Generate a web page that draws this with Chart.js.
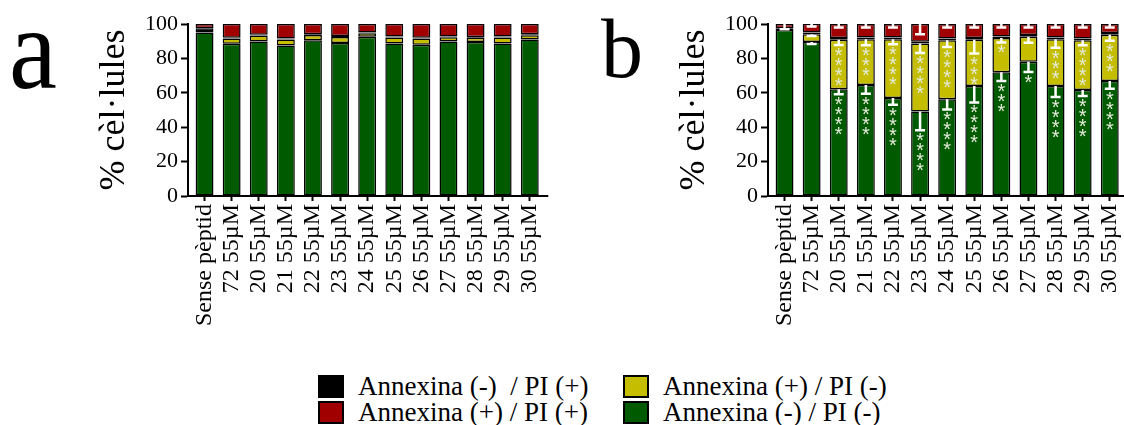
<!DOCTYPE html>
<html>
<head>
<meta charset="utf-8">
<title>Annexina / PI</title>
<script src="https://cdn.jsdelivr.net/npm/chart.js"></script>
<style>
  body { margin: 0; width: 1124px; height: 425px; overflow: hidden; background: #fff; position: relative; font-family: "Liberation Serif", serif; }
  .panel { position: absolute; top: 0; width: 562px; height: 345px; }
  .letter { position: absolute; line-height: 1; color: #000; }
  #legend { position: absolute; left: 318px; top: 374px; }
  .item { position: absolute; display: flex; align-items: center; white-space: pre; font-size: 27px; line-height: 24px; color: #000; }
  .box { width: 26px; height: 23px; border: 2px solid #000; box-sizing: border-box; margin-right: 14px; }
</style>
</head>
<body>
<div class="letter" style="left:9px;top:-2px;font-size:108px;transform:scaleY(1.08);transform-origin:0 90px">a</div>
<div class="letter" style="left:601px;top:7px;font-size:84px">b</div>
<div class="panel" style="left:0"><canvas id="chartA" width="562" height="345"></canvas></div>
<div class="panel" style="left:580px"><canvas id="chartB" width="562" height="345"></canvas></div>
<div id="legend"></div>
<script>
var labels = ['Sense pèptid', '72 55µM', '20 55µM', '21 55µM', '22 55µM', '23 55µM', '24 55µM',
              '25 55µM', '26 55µM', '27 55µM', '28 55µM', '29 55µM', '30 55µM'];
var yTitle = '% cèl·lules';

// legend order: black, red, yellow, green
var seriesNames = ['Annexina (-)  / PI (+)', 'Annexina (+) / PI (+)', 'Annexina (+) / PI (-)', 'Annexina (-) / PI (-)'];
var seriesColors = ['#000000', '#a00000', '#c4bd00', '#005a00'];

// panel a
var greenA  = [95, 88.5, 89.8, 87.5, 90.6, 89, 92.6, 88.7, 88, 89.8, 89.5, 88.7, 91];
var yellowA = [0, 3, 3.5, 3.5, 3, 3.5, 2, 3.5, 3.5, 2.5, 2.5, 3.5, 2.5];
var blackA  = [2.5, 0.5, 0.5, 0.5, 0.5, 0.5, 0.5, 0.5, 0.5, 0.5, 0.5, 0.5, 0.5];
var redA    = [2.5, 8, 6.2, 8.5, 5.9, 7, 4.9, 7.3, 8, 7.2, 7.5, 7.3, 6];

// panel b
var greenB  = [96.5, 89.5, 62.1, 64.5, 57, 49.2, 56.3, 63.9, 71.9, 78.1, 64, 61.7, 66.8];
var yellowB = [0, 4.5, 28.7, 26.7, 34.2, 39.5, 34.3, 26.9, 19.9, 14.5, 27.2, 28.9, 27];
var blackB  = [1, 1, 1, 1, 1, 1, 1, 1, 1, 1, 1, 1, 1];
var redB    = [2.5, 5, 8.2, 7.8, 7.8, 10.3, 8.4, 8.2, 7.2, 6.4, 7.8, 8.4, 5.2];

// error bars (drawn downwards) and asterisk counts for panel b
var greenErrB  = [0, 1.2, 3, 5, 4, 11, 6, 9.5, 5, 6, 6.5, 3.5, 4.5];
var yellowErrB = [0, 1, 3, 3.5, 3, 5.5, 4, 8, 2.5, 3.5, 5, 3, 3.5];
var redErrB    = [3, 1.5, 2, 2, 2, 6, 2, 2, 2, 2, 2, 2, 2];
var greenStars  = [0, 0, 4, 4, 4, 4, 4, 4, 3, 1, 4, 4, 4];
var yellowStars = [0, 0, 4, 3, 4, 4, 4, 3, 1, 0, 3, 4, 3];

var serif = 'Liberation Serif';

function bar(label, data, color) {
    return {
        label: label, data: data, backgroundColor: color,
        borderColor: '#000', borderWidth: 1.5, borderSkipped: false,
        categoryPercentage: 1, barPercentage: 0.66
    };
}

// stacking bottom -> top: green, yellow, black, red
function makeData(g, y, k, r) {
    return {
        labels: labels,
        datasets: [
            bar(seriesNames[3], g, seriesColors[3]),
            bar(seriesNames[2], y, seriesColors[2]),
            bar(seriesNames[0], k, seriesColors[0]),
            bar(seriesNames[1], r, seriesColors[1])
        ]
    };
}

// categories start a little right of the y axis, x axis runs past the last bar
var axisGap = {
    id: 'axisGap',
    afterLayout: function (chart) {
        var x = chart.scales.x;
        x.left += 3;
        x.width = x.right - x.left;
        x.configure();
    },
    afterDraw: function (chart) {
        var a = chart.chartArea, ctx = chart.ctx;
        ctx.save();
        ctx.strokeStyle = '#000';
        ctx.lineWidth = 2;
        ctx.beginPath();
        ctx.moveTo(a.left - 1, a.bottom);
        ctx.lineTo(a.right + 5, a.bottom);
        ctx.stroke();
        ctx.restore();
    }
};

var errorBars = {
    id: 'errorBars',
    afterDatasetsDraw: function (chart, args, opts) {
        if (!opts.list) return;
        var ctx = chart.ctx, ys = chart.scales.y;
        var unit = ys.getPixelForValue(0) - ys.getPixelForValue(1);
        ctx.save();
        ctx.font = '20px "Liberation Sans"';
        var m = ctx.measureText('*');
        var shift = (m.actualBoundingBoxAscent - m.actualBoundingBoxDescent) / 2;
        opts.list.forEach(function (e) {
            var meta = chart.getDatasetMeta(e.dataset);
            meta.data.forEach(function (el, i) {
                var err = e.err[i];
                if (!err) return;
                var top = el.y, cap = top + err * unit;
                ctx.strokeStyle = '#fff';
                ctx.lineWidth = 2.5;
                ctx.beginPath();
                ctx.moveTo(el.x, top);
                ctx.lineTo(el.x, cap);
                ctx.moveTo(el.x - 5, cap);
                ctx.lineTo(el.x + 5, cap);
                ctx.stroke();
                var n = e.stars ? e.stars[i] : 0;
                ctx.fillStyle = '#e4ebda';
                ctx.textAlign = 'center';
                for (var s = 0; s < n; s++) {
                    ctx.fillText('*', el.x, cap + 7 + s * 10 + shift);
                }
            });
        });
        ctx.restore();
    }
};

function makeOptions(errList) {
    return {
        responsive: false,
        animation: false,
        layout: { padding: { top: 24, right: 14, bottom: 0, left: 0 } },
        plugins: {
            legend: { display: false },
            tooltip: { enabled: false },
            errorBars: { list: errList }
        },
        scales: {
            x: {
                stacked: true,
                grid: { display: true, drawOnChartArea: false, offset: false, tickLength: 5, tickWidth: 2, tickColor: '#000' },
                border: { display: false },
                ticks: { color: '#000', font: { family: serif, size: 24 }, minRotation: 90, maxRotation: 90, autoSkip: false, padding: 3 },
                afterFit: function (s) { s.height = 149; }
            },
            y: {
                stacked: true, min: 0, max: 100,
                ticks: { stepSize: 20, color: '#000', font: { family: serif, size: 22 }, padding: 3 },
                grid: { drawOnChartArea: false, tickLength: 7, tickWidth: 2, tickColor: '#000' },
                border: { display: true, color: '#000', width: 2 },
                title: { display: true, text: yTitle, color: '#000', font: { family: serif, size: 36 }, padding: { top: 93, bottom: 0 } },
                afterFit: function (s) { s.width = 188; }
            }
        }
    };
}

new Chart(document.getElementById('chartA'), {
    type: 'bar',
    data: makeData(greenA, yellowA, blackA, redA),
    options: makeOptions(null),
    plugins: [axisGap, errorBars]
});

new Chart(document.getElementById('chartB'), {
    type: 'bar',
    data: makeData(greenB, yellowB, blackB, redB),
    options: makeOptions([
        { dataset: 0, err: greenErrB, stars: greenStars },
        { dataset: 1, err: yellowErrB, stars: yellowStars },
        { dataset: 3, err: redErrB }
    ]),
    plugins: [axisGap, errorBars]
});

// shared legend, two columns
var legend = document.getElementById('legend');
var spots = [[0, 0], [0, 26], [305, 0], [305, 26]];
seriesNames.forEach(function (name, i) {
    var item = document.createElement('div');
    item.className = 'item';
    item.style.left = spots[i][0] + 'px';
    item.style.top = spots[i][1] + 'px';
    var box = document.createElement('span');
    box.className = 'box';
    box.style.background = seriesColors[i];
    item.appendChild(box);
    item.appendChild(document.createTextNode(name));
    legend.appendChild(item);
});
</script>
</body>
</html>
